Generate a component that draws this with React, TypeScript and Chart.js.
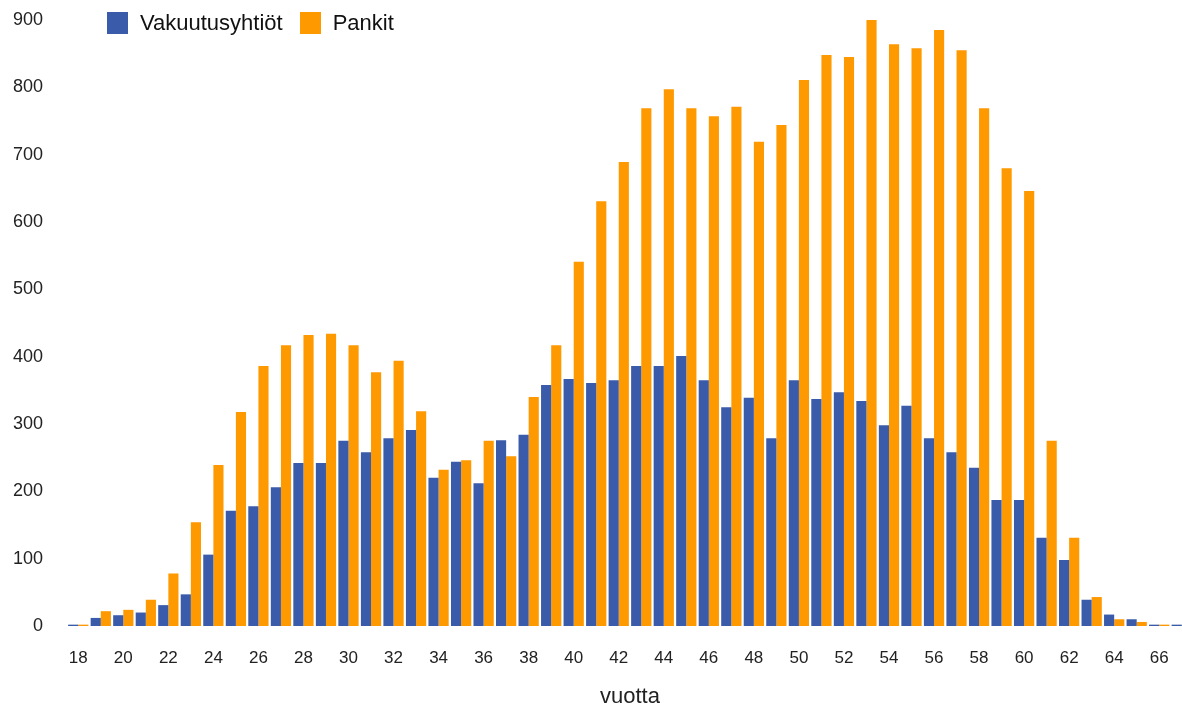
import React, { useEffect, useRef } from "react";
import { Chart, registerables } from "chart.js";

Chart.register(...registerables);

const ages: string[] = [];
for (let a = 18; a <= 67; a++) ages.push(String(a));

const vakuutusyhtiot = [
  2, 12, 16, 20, 31, 47, 106, 171, 178, 206,
  242, 242, 275, 258, 279, 291, 220, 244, 212, 276,
  284, 358, 367, 361, 365, 386, 386, 401, 365, 325,
  339, 279, 365, 337, 347, 334, 298, 327, 279, 258,
  235, 187, 187, 131, 98, 39, 17, 10, 2, 2,
];

const pankit = [
  2, 22, 24, 39, 78, 154, 239, 318, 386, 417,
  432, 434, 417, 377, 394, 319, 232, 246, 275, 252,
  340, 417, 541, 631, 689, 769, 797, 769, 757, 771,
  719, 744, 811, 848, 845, 904, 864, 858, 885, 855,
  769, 680, 646, 275, 131, 43, 10, 6, 2, 2,
];

const yTicks = [0, 100, 200, 300, 400, 500, 600, 700, 800, 900];

const seriesNames = ["Vakuutusyhtiöt", "Pankit"];
const colors = ["#3A5BA9", "#FF9900"];

const FONT = "'Liberation Sans', Arial, sans-serif";

export default function App() {
  const ref = useRef<HTMLCanvasElement | null>(null);
  useEffect(() => {
    if (!ref.current) return;
    const chart = new Chart(ref.current, {
      type: "bar",
      data: {
        labels: ages,
        datasets: [
          {
            label: seriesNames[0],
            data: vakuutusyhtiot,
            backgroundColor: colors[0],
            borderWidth: 0,
            categoryPercentage: 0.9,
            barPercentage: 1.0,
          },
          {
            label: seriesNames[1],
            data: pankit,
            backgroundColor: colors[1],
            borderWidth: 0,
            categoryPercentage: 0.9,
            barPercentage: 1.0,
          },
        ],
      },
      options: {
        responsive: false,
        animation: false,
        layout: { padding: { top: 20, right: 0, bottom: 0, left: 0 } },
        plugins: {
          legend: { display: false },
          tooltip: { enabled: false },
        },
        scales: {
          x: {
            grid: { display: false, drawTicks: false },
            border: { display: false },
            afterFit: (s: any) => {
              s.height = 80;
              s.paddingLeft = 0;
              s.paddingRight = 0;
            },
            ticks: {
              autoSkip: false,
              maxRotation: 0,
              padding: 22,
              color: "#222",
              font: { family: FONT, size: 17 },
              callback: (_v: any, i: number) => (Number(ages[i]) % 2 === 0 ? ages[i] : ""),
            },
            title: {
              display: true,
              text: "vuotta",
              color: "#222",
              font: { family: FONT, size: 22, lineHeight: 0.8 },
              padding: { top: 10, bottom: 0 },
            },
          },
          y: {
            min: 0,
            max: 900,
            grid: { display: false, drawTicks: false },
            border: { display: false },
            afterFit: (s: any) => {
              s.width = 67;
              s.paddingTop = 0;
              s.paddingBottom = 0;
            },
            afterBuildTicks: (s: any) => {
              s.ticks = yTicks.map((v) => ({ value: v }));
            },
            ticks: {
              padding: 24,
              color: "#222",
              font: { family: FONT, size: 18 },
            },
          },
        },
      },
    });
    return () => chart.destroy();
  }, []);

  return (
    <div
      style={{
        position: "absolute",
        left: 0,
        top: 0,
        width: 1182,
        height: 706,
        overflow: "hidden",
        background: "#fff",
      }}
    >
      <canvas ref={ref} width={1193} height={706} style={{ display: "block" }} />
      <div
        style={{
          position: "absolute",
          left: 107,
          top: 12,
          display: "flex",
          alignItems: "center",
          fontFamily: FONT,
          fontSize: 22,
          lineHeight: "22px",
          color: "#111",
        }}
      >
        {seriesNames.map((n, i) => (
          <div key={n} style={{ display: "flex", alignItems: "center", marginRight: 17 }}>
            <span
              style={{
                display: "inline-block",
                width: 21,
                height: 22,
                background: colors[i],
                marginRight: 12,
              }}
            />
            <span>{n}</span>
          </div>
        ))}
      </div>
    </div>
  );
}
